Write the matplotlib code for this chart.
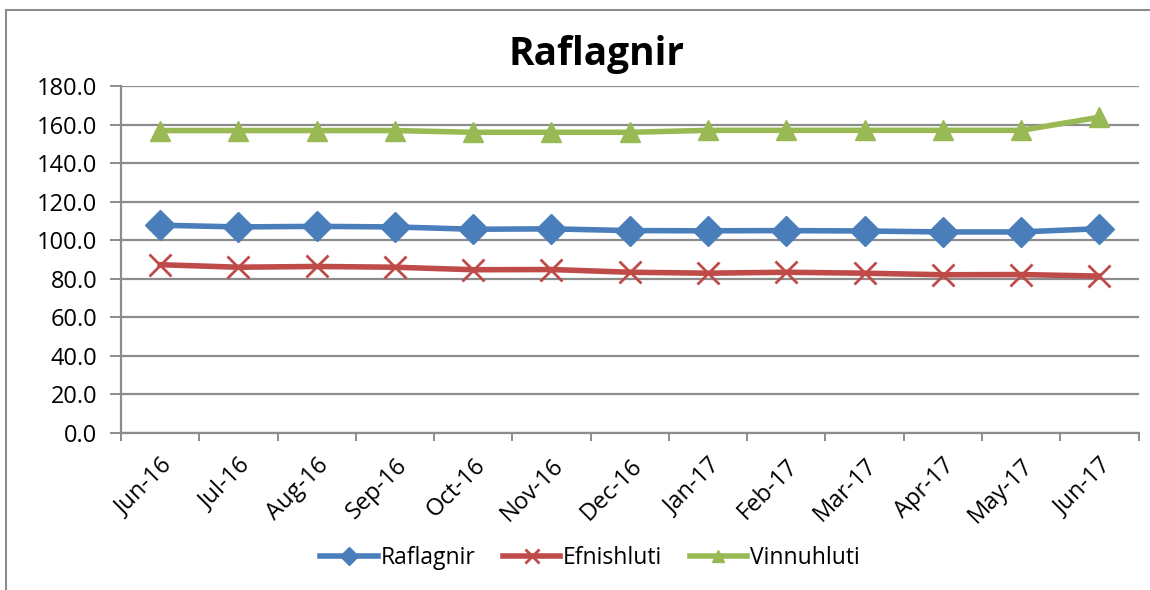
import matplotlib.pyplot as plt
from matplotlib.lines import Line2D

# Gögn lesin af myndinni
months = ['Jun-16', 'Jul-16', 'Aug-16', 'Sep-16', 'Oct-16', 'Nov-16', 'Dec-16',
          'Jan-17', 'Feb-17', 'Mar-17', 'Apr-17', 'May-17', 'Jun-17']
raflagnir = [107.8, 106.9, 107.2, 106.9, 105.7, 105.9, 105.0,
             104.9, 105.0, 104.8, 104.3, 104.3, 106.0]
efnishluti = [87.3, 86.0, 86.4, 86.0, 84.7, 84.8, 83.4,
              82.9, 83.4, 82.9, 82.1, 82.2, 81.4]
vinnuhluti = [156.9, 156.9, 156.9, 156.9, 156.0, 156.0, 156.0,
              157.0, 157.0, 157.0, 157.0, 157.0, 163.8]
y_ticks = [0, 20, 40, 60, 80, 100, 120, 140, 160, 180]

plt.rcParams['font.family'] = ['Open Sans', 'DejaVu Sans']

fig = plt.figure(figsize=(11.5, 5.9), dpi=100)
ax = fig.add_axes([0.1052, 0.2661, 0.8848, 0.5881])

x = list(range(len(months)))
ax.plot(x, raflagnir, color='#4a7ebb', lw=4, marker='D', ms=15, label='Raflagnir')
ax.plot(x, efnishluti, color='#be4b48', lw=4, marker='x', ms=16, mew=2, label='Efnishluti')
ax.plot(x, vinnuhluti, color='#98b954', lw=4, marker='^', ms=15, label='Vinnuhluti')

ax.set_xlim(-0.5, len(months) - 0.5)
ax.set_ylim(0, 180)
ax.set_yticks(y_ticks)
ax.set_yticklabels([f'{v:.1f}' for v in y_ticks], fontsize=17)
ax.yaxis.grid(True, color='#8c8c8c', lw=1.6)
ax.set_axisbelow(True)

ax.set_xticks([i - 0.5 for i in range(len(months) + 1)])
ax.set_xticklabels([])
ax.set_xticks(x, minor=True)
ax.set_xticklabels(months, minor=True, rotation=45, ha='right',
                   rotation_mode='anchor', fontsize=17)
ax.tick_params(axis='x', which='minor', length=0, pad=15)
ax.tick_params(axis='x', which='major', length=5.5, color='#8c8c8c', width=1.4)
ax.tick_params(axis='y', length=8, color='#8c8c8c', width=1.4, pad=9)

for s in ['top', 'right']:
    ax.spines[s].set_visible(False)
for s in ['left', 'bottom']:
    ax.spines[s].set_color('#8c8c8c')
    ax.spines[s].set_linewidth(1.6)

fig.text(0.519, 0.907, 'Raflagnir', ha='center', va='center',
         fontsize=28, fontweight='bold')

fig.legend(loc='center', bbox_to_anchor=(0.513, 0.054), ncol=3, frameon=False,
           fontsize=16.5, handlelength=2.5, columnspacing=1.2, handletextpad=0.12,
           markerscale=0.6)

# rammi utan um myndina
fig.add_artist(Line2D([0.005, 0.005], [0, 0.983], color='#8c8c8c', lw=1.5))
fig.add_artist(Line2D([0.005, 1], [0.983, 0.983], color='#8c8c8c', lw=1.5))

fig.savefig('out.png', dpi=100)
